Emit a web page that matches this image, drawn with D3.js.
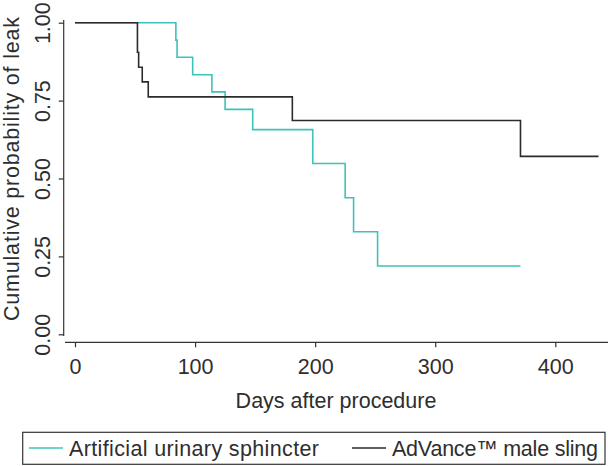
<!DOCTYPE html>
<html>
<head>
<meta charset="utf-8">
<script src="https://cdn.jsdelivr.net/npm/d3@7"></script>
<style>
  html, body { margin: 0; padding: 0; background: #fff; }
  svg { display: block; }
  text { font-family: "Liberation Sans", Arial, sans-serif; fill: #2e2e2e; }
</style>
</head>
<body>
<svg id="chart" width="608" height="466"></svg>
<script>
// ---- data ----
const seriesNames = ["Artificial urinary sphincter", "AdVance\u2122 male sling"];
const ausDays  = [0, 84, 85, 98, 114, 125, 148, 198, 225, 232, 252, 371];
const ausSurv  = [1.0, 0.944, 0.889, 0.833, 0.778, 0.722, 0.657, 0.548, 0.438, 0.329, 0.219, 0.219];
const slingDays = [0, 52, 53, 56, 61, 181, 371, 436];
const slingSurv = [1.0, 0.905, 0.857, 0.810, 0.762, 0.686, 0.571, 0.571];
const xTicks = [0, 100, 200, 300, 400];
const yTicks = [0, 0.25, 0.5, 0.75, 1.0];
const xTitle = "Days after procedure";
const yTitle = "Cumulative probability of leak";

const colors = ["#3ec2b9", "#2b2b2b"];

const svg = d3.select("#chart");
const x = d3.scaleLinear().domain([0, 400]).range([75, 555.3]);
const y = d3.scaleLinear().domain([0, 1]).range([334.3, 22.7]);
const fs = 21.5;

// y axis
const yAxis = svg.append("g").attr("transform", "translate(63.7,0)")
  .call(d3.axisLeft(y).tickValues(yTicks).tickFormat(d3.format(".2f")).tickSize(5).tickSizeOuter(0));
yAxis.select(".domain").remove();
yAxis.append("line").attr("x1", 0).attr("x2", 0).attr("y1", 20).attr("y2", 336)
  .attr("stroke", "#333").attr("stroke-width", 1.2);
yAxis.selectAll(".tick line").attr("stroke", "#333").attr("stroke-width", 1.2);
yAxis.selectAll(".tick text")
  .attr("x", null).attr("dy", null)
  .attr("transform", "translate(-14,0) rotate(-90)")
  .attr("text-anchor", "middle")
  .style("font-size", fs + "px").style("font-family", '"Liberation Sans", Arial, sans-serif')
  .attr("fill", "#2e2e2e");

// x axis
const xAxis = svg.append("g").attr("transform", "translate(0,342.3)")
  .call(d3.axisBottom(x).tickValues(xTicks).tickFormat(d3.format("d")).tickSize(5).tickSizeOuter(0));
xAxis.select(".domain").remove();
xAxis.append("line").attr("x1", 65).attr("x2", 608).attr("y1", 0).attr("y2", 0)
  .attr("stroke", "#333").attr("stroke-width", 1.2);
xAxis.selectAll(".tick line").attr("stroke", "#333").attr("stroke-width", 1.2);
xAxis.selectAll(".tick text")
  .attr("y", 32).attr("dy", null)
  .style("font-size", fs + "px").style("font-family", '"Liberation Sans", Arial, sans-serif')
  .attr("fill", "#2e2e2e");

// titles
svg.append("text").attr("x", 336).attr("y", 408).attr("text-anchor", "middle")
  .style("font-size", fs + "px").text(xTitle);
svg.append("text").attr("transform", "translate(19,169) rotate(-90)").attr("text-anchor", "middle")
  .attr("textLength", 304).attr("lengthAdjust", "spacing")
  .style("font-size", fs + "px").text(yTitle);

// lines
const line = d3.line().x(d => x(d[0])).y(d => y(d[1])).curve(d3.curveStepAfter);
const series = [
  ausDays.map((d, i) => [d, ausSurv[i]]),
  slingDays.map((d, i) => [d, slingSurv[i]])
];
series.forEach((s, i) => {
  svg.append("path").datum(s).attr("d", line)
    .attr("fill", "none").attr("stroke", colors[i]).attr("stroke-width", 1.6);
});

// legend
const lg = svg.append("g");
lg.append("rect").attr("x", 22.7).attr("y", 432.3).attr("width", 582.3).attr("height", 32)
  .attr("fill", "#fff").attr("stroke", "#333").attr("stroke-width", 1.2);
const legX = [29, 352];
const legLen = [250, 206];
seriesNames.forEach((n, i) => {
  lg.append("line").attr("x1", legX[i]).attr("x2", legX[i] + 34).attr("y1", 448).attr("y2", 448)
    .attr("stroke", colors[i]).attr("stroke-width", 1.6);
  lg.append("text").attr("x", legX[i] + 40).attr("y", 455.5)
    .attr("textLength", legLen[i]).attr("lengthAdjust", "spacing")
    .style("font-size", fs + "px").text(n);
});
</script>
</body>
</html>
